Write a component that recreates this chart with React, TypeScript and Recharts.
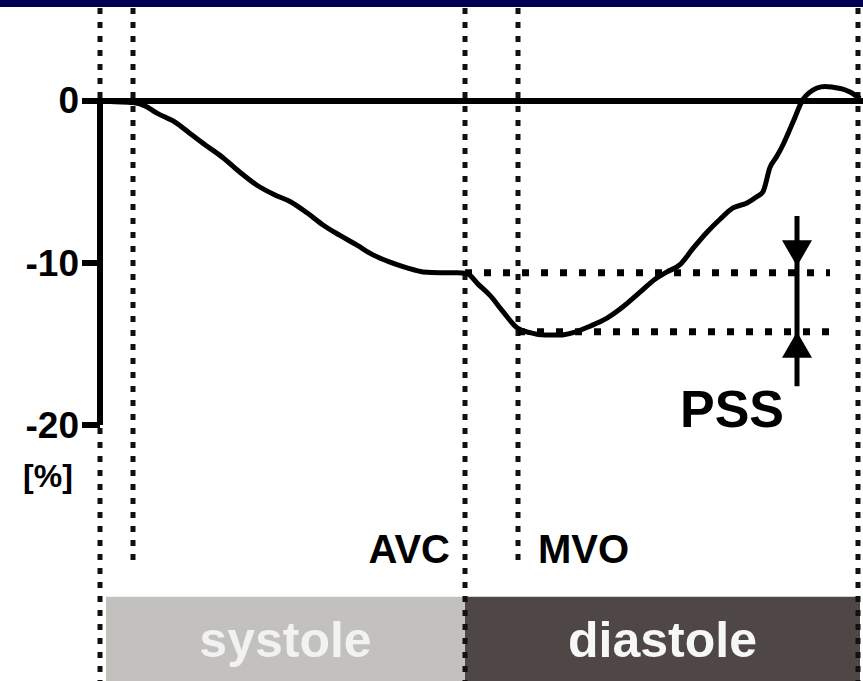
import { ComposedChart, Line, XAxis, YAxis, ReferenceLine, ReferenceArea, ReferenceDot } from "recharts";

// time axis in ms-like units (0 = start of the cycle), strain in %
const TIME = [0, 15, 33, 45, 57, 75, 90, 105, 123, 140, 157, 175, 190, 207, 223, 240, 257, 273, 290, 307, 323, 340, 357, 367, 378, 390, 403, 417, 430, 445, 460, 473, 490, 507, 523, 540, 555, 567, 580, 593, 607, 620, 633, 647, 657, 663, 670, 677, 683, 693, 703, 710, 717, 725, 733, 742, 750, 760];
const STRAIN = [0, -0.05, -0.1, -0.3, -0.75, -1.3, -2.0, -2.7, -3.5, -4.4, -5.2, -5.8, -6.2, -6.9, -7.65, -8.3, -8.9, -9.5, -9.95, -10.3, -10.55, -10.6, -10.6, -10.65, -11.3, -12.0, -13.0, -14.0, -14.3, -14.45, -14.45, -14.3, -13.9, -13.4, -12.7, -11.8, -11.0, -10.55, -10.1, -9.1, -8.1, -7.3, -6.6, -6.3, -5.9, -5.6, -4.1, -3.4, -2.7, -1.3, 0.1, 0.55, 0.8, 0.9, 0.85, 0.75, 0.55, 0.15];

const Y_TICKS = [0, -10, -20];

// cycle markers: [time, how far down the dotted line runs]
const MARKERS = [
  { t: 0, end: -35.8 },
  { t: 33, end: -28.8 },
  { t: 365, end: -35.8 },
  { t: 418, end: -28.6 },
  { t: 758, end: -35.8 },
];
const EVENTS = [
  { name: "AVC", t: 350, anchor: "end" },
  { name: "MVO", t: 438, anchor: "start" },
];
const PHASES = [
  { name: "systole", from: 6, to: 365, fill: "#c2c1be", text: "#f2f2f2" },
  { name: "diastole", from: 365, to: 760, fill: "#4e4745", text: "#f7f7f7" },
];
const END_SYSTOLE = -10.6;
const PEAK = -14.25;
const PSS_T = 697;

const data = TIME.map((t, i) => ({ t, strain: STRAIN[i] }));

const Y_MIN = -35.8;
const Y_MAX = 5.74;
const FONT = "'Liberation Sans', Arial, sans-serif";

function StrainTick({ x, y, payload }: any) {
  return (
    <g>
      <line x1={x - 18} x2={x} y1={y} y2={y} stroke="#000" strokeWidth={6} />
      <text x={x - 21} y={y} textAnchor="end" dominantBaseline="central" fontFamily={FONT} fontWeight="bold" fontSize={37} fill="#000">
        {payload.value}
      </text>
    </g>
  );
}

export default function App() {
  return (
    <div style={{ position: "fixed", left: 0, top: 0, width: 863, height: 681, background: "#fff" }}>
      <div style={{ position: "absolute", left: 0, top: 0, width: 863, height: 7, background: "#000050" }} />
      <ComposedChart width={863} height={681} data={data} margin={{ top: 8, right: 0, bottom: 0, left: 0 }}>
        <XAxis dataKey="t" type="number" domain={[0, 763]} hide />
        <YAxis type="number" domain={[Y_MIN, Y_MAX]} ticks={Y_TICKS} width={100} axisLine={false} tickLine={false}
          tickSize={0} tickMargin={0} tick={<StrainTick />} interval={0} />

        {PHASES.map(p => (
          <ReferenceArea key={p.name} x1={p.from} x2={p.to} y1={Y_MIN} y2={-30.6} fill={p.fill} fillOpacity={1} stroke="none"
            label={{ value: p.name, position: "center", fill: p.text, fontSize: 50, fontWeight: "bold", fontFamily: FONT }} />
        ))}

        {MARKERS.map(m => (
          <ReferenceLine key={m.t} segment={[{ x: m.t, y: Y_MAX }, { x: m.t, y: m.end }]} stroke="#111"
            strokeWidth={5} strokeDasharray="6 8" />
        ))}

        <ReferenceLine segment={[{ x: 365, y: END_SYSTOLE }, { x: 730, y: END_SYSTOLE }]} stroke="#000" strokeWidth={7} strokeDasharray="7 12" />
        <ReferenceLine segment={[{ x: 418, y: PEAK }, { x: 730, y: PEAK }]} stroke="#000" strokeWidth={7} strokeDasharray="7 12" />

        <ReferenceLine y={0} stroke="#000" strokeWidth={6} />
        <ReferenceLine segment={[{ x: 0, y: 0 }, { x: 0, y: -20 }]} stroke="#000" strokeWidth={6} />

        <Line dataKey="strain" type="monotone" stroke="#000" strokeWidth={5} dot={false} isAnimationActive={false} />

        <ReferenceLine segment={[{ x: PSS_T, y: -7.1 }, { x: PSS_T, y: -17.6 }]} stroke="#000" strokeWidth={5} />
        <ReferenceDot x={PSS_T} y={END_SYSTOLE + 0.4} r={0} shape={(p: any) => (
          <path d={`M${p.cx - 15},${p.cy - 26} L${p.cx + 15},${p.cy - 26} L${p.cx},${p.cy} Z`} fill="#000" />
        )} />
        <ReferenceDot x={PSS_T} y={PEAK} r={0} shape={(p: any) => (
          <path d={`M${p.cx - 15},${p.cy + 26} L${p.cx + 15},${p.cy + 26} L${p.cx},${p.cy} Z`} fill="#000" />
        )} />
        <ReferenceDot x={632} y={-20.1} r={0} shape={(p: any) => (
          <text x={p.cx} y={p.cy} textAnchor="middle" fontFamily={FONT} fontWeight="bold" fontSize={52} fill="#000">PSS</text>
        )} />

        {EVENTS.map(e => (
          <ReferenceDot key={e.name} x={e.t} y={-28.5} r={0} shape={(p: any) => (
            <text x={p.cx} y={p.cy} textAnchor={e.anchor} fontFamily={FONT} fontWeight="bold" fontSize={40} fill="#000">{e.name}</text>
          )} />
        ))}

        <ReferenceDot x={-52} y={-23.8} r={0} ifOverflow="visible" shape={(p: any) => (
          <text x={p.cx} y={p.cy} textAnchor="middle" fontFamily={FONT} fontWeight="bold" fontSize={32} fill="#000">[%]</text>
        )} />
      </ComposedChart>
    </div>
  );
}
